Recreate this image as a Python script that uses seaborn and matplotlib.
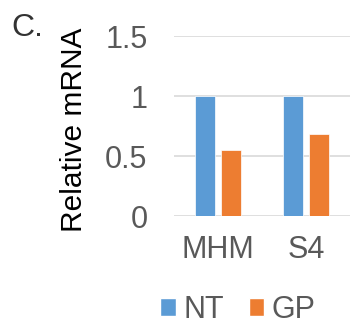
import pandas as pd
import matplotlib
matplotlib.use('Agg')
import matplotlib.pyplot as plt
import seaborn as sns
from matplotlib.patches import Patch

# data
genes = ['MHM', 'S4']
conditions = ['NT', 'GP']
nt_values = [1.0, 1.0]
gp_values = [0.55, 0.68]
yticks = [0, 0.5, 1, 1.5]
ytick_labels = ['0', '0.5', '1', '1.5']

palette = {'NT': '#5b9bd5', 'GP': '#ed7d31'}

df = pd.DataFrame({
    'gene': genes * 2,
    'condition': ['NT'] * len(genes) + ['GP'] * len(genes),
    'value': nt_values + gp_values,
})

sns.set_style('white')
plt.rcParams['font.family'] = ['Liberation Sans', 'DejaVu Sans']

fig = plt.figure(figsize=(3.6, 3.29), dpi=100)
ax = fig.add_axes([174 / 360, 1 - 216 / 329, 176 / 360, 180 / 329])

sns.barplot(data=df, x='gene', y='value', hue='condition', order=genes,
            hue_order=conditions, palette=palette, width=0.57, gap=0.2,
            saturation=1, edgecolor='white', linewidth=0.5, ax=ax, legend=False)

ax.set_ylim(0, 1.5)
ax.set_xlim(-0.5, 1.5)
ax.set_yticks(yticks)
ax.set_yticklabels(ytick_labels)
ax.yaxis.grid(True, color='#d9d9d9', linewidth=1.2)
ax.set_axisbelow(True)
for s in ax.spines.values():
    s.set_visible(False)
ax.tick_params(axis='both', length=0, labelsize=22, colors='#595959')
ax.tick_params(axis='y', pad=19)
ax.tick_params(axis='x', pad=14)
ax.set_xlabel('')
ax.set_ylabel('Relative mRNA', fontsize=21.5, color='black')
ax.yaxis.set_label_coords(-0.49, 0.478)

fig.text(11 / 360, 1 - 28 / 329, 'C.', fontsize=23, color='#333333', va='center')

handles = [Patch(facecolor=palette[c], label=c) for c in conditions]
fig.legend(handles=handles, loc='center', bbox_to_anchor=(238 / 360, 1 - 310 / 329),
           ncol=2, frameon=False, fontsize=22, handlelength=0.5, handleheight=0.5,
           handletextpad=0.26, columnspacing=0.8, labelcolor='#595959')

fig.savefig('out.png', dpi=100)
